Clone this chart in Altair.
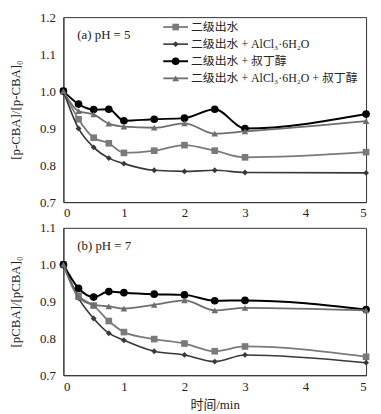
import altair as alt
import pandas as pd

times = [0, 0.25, 0.5, 0.75, 1, 1.5, 2, 2.5, 3, 5]
series_names = ["二级出水", "二级出水 + AlCl₃·6H₂O", "二级出水 + 叔丁醇", "二级出水 + AlCl₃·6H₂O + 叔丁醇"]

# pH = 5
a_sq = [1.0, 0.924, 0.874, 0.859, 0.833, 0.839, 0.854, 0.839, 0.821, 0.835]
a_di = [1.0, 0.899, 0.848, 0.819, 0.804, 0.786, 0.783, 0.786, 0.780, 0.779]
a_ci = [1.0, 0.965, 0.950, 0.951, 0.920, 0.924, 0.927, 0.951, 0.899, 0.938]
a_tr = [1.0, 0.946, 0.937, 0.912, 0.904, 0.901, 0.913, 0.885, 0.891, 0.919]
# pH = 7
b_sq = [1.0, 0.916, 0.889, 0.847, 0.817, 0.798, 0.786, 0.765, 0.778, 0.750]
b_di = [1.0, 0.909, 0.854, 0.814, 0.795, 0.765, 0.755, 0.737, 0.755, 0.734]
b_ci = [1.0, 0.936, 0.912, 0.927, 0.924, 0.920, 0.918, 0.902, 0.903, 0.878]
b_tr = [1.0, 0.912, 0.891, 0.887, 0.881, 0.891, 0.903, 0.876, 0.883, 0.876]

styles = [
    dict(color="#7a7a7a", shape="square", size=45, sw=1.8),
    dict(color="#383838", shape="diamond", size=35, sw=1.6),
    dict(color="#000000", shape="circle", size=60, sw=2.0),
    dict(color="#6e6e6e", shape="triangle-up", size=45, sw=1.8),
]

FONT = "Liberation Serif, Noto Sans CJK SC"
W = 306


def panel(vals, ytitle, ymax, h, label, legend, xtitle):
    layers = []
    for name, v, st in zip(series_names, vals, styles):
        df = pd.DataFrame({"t": times, "v": v, "s": name})
        base = alt.Chart(df).encode(
            x=alt.X("t:Q", scale=alt.Scale(domain=[0, 5], nice=False),
                    axis=alt.Axis(values=[0, 1, 2, 3, 4, 5], format="d", title=xtitle,
                                  grid=False, ticks=False, labelPadding=5,
                                  titlePadding=6)),
            y=alt.Y("v:Q", scale=alt.Scale(domain=[0.7, ymax], nice=False, zero=False),
                    axis=alt.Axis(values=[round(0.7 + 0.1 * i, 1) for i in range(int(round((ymax - 0.7) * 10)) + 1)],
                                  format=".1f", title=ytitle, grid=False, ticks=False,
                                  labelPadding=8, titlePadding=17)),
        )
        layers.append(base.mark_line(color=st["color"], strokeWidth=st["sw"], interpolate="monotone"))
        layers.append(base.mark_point(color=st["color"], shape=st["shape"], size=st["size"],
                                      filled=True, opacity=1))
    layers.append(alt.Chart(pd.DataFrame({"a": [0]})).mark_text(
        align="left", baseline="middle", fontSize=13, font=FONT, color="#222").encode(
        x=alt.value(14), y=alt.value(18), text=alt.value(label)))
    if legend:
        for i, (name, st) in enumerate(zip(series_names, styles)):
            yy = 10 + 17.3 * i
            d = alt.Chart(pd.DataFrame({"a": [0]}))
            layers.append(d.mark_rule(color=st["color"], strokeWidth=st["sw"]).encode(
                x=alt.value(101), x2=alt.value(126), y=alt.value(yy)))
            layers.append(d.mark_point(color=st["color"], shape=st["shape"], size=st["size"],
                                       filled=True, opacity=1).encode(
                x=alt.value(113.5), y=alt.value(yy)))
            layers.append(d.mark_text(align="left", baseline="middle", fontSize=12, font=FONT,
                                      color="#222").encode(
                x=alt.value(129), y=alt.value(yy), text=alt.value(name)))
    return alt.layer(*layers).properties(width=W, height=h)


top = panel([a_sq, a_di, a_ci, a_tr], "[p-CBA]/[p-CBA]₀", 1.2, 187, "(a) pH = 5", True, None)
bot = panel([b_sq, b_di, b_ci, b_tr], "[pCBA]/[pCBA]₀", 1.1, 149, "(b) pH = 7", False, "时间/min")

chart = alt.vconcat(top, bot, spacing=0).configure_view(stroke="#333", strokeWidth=1).configure_axis(
    labelFont=FONT, titleFont=FONT, labelFontSize=13, titleFontSize=13,
    labelColor="#222", titleColor="#222", titleFontWeight="normal",
    domainColor="#333").properties(padding={"left": 1, "top": 0, "right": 2, "bottom": 0})

chart.save("out.html", embed_options={"renderer": "svg", "actions": False})
